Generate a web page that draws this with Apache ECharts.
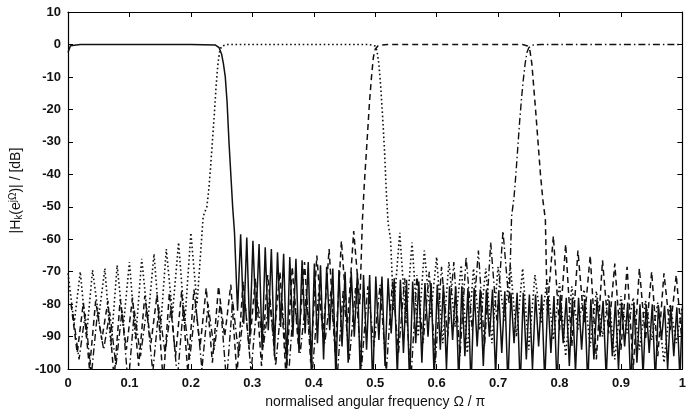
<!DOCTYPE html>
<html>
<head>
<meta charset="utf-8">
<script src="https://cdn.jsdelivr.net/npm/echarts@6/dist/echarts.min.js"></script>
<style>
  html, body { margin: 0; padding: 0; background: #fff; }
  #chart { width: 689px; height: 414px; }
</style>
</head>
<body>
<div id="chart"></div>
<script>
// frequency axis ticks (normalised, Omega / pi)
const xTicks = [0, 0.1, 0.2, 0.3, 0.4, 0.5, 0.6, 0.7, 0.8, 0.9, 1]
const yTicks = [10, 0, -10, -20, -30, -40, -50, -60, -70, -80, -90, -100]

// H0 - lowpass, solid
const h0Pass = [[0, -2.5], [0.004, -0.4], [0.02, 0], [0.1, 0], [0.2, 0], [0.24, -0.2], [0.246, -1], [0.25, -3],
  [0.253, -6], [0.256, -10], [0.259, -18], [0.262, -30], [0.265, -40], [0.268, -50], [0.271, -58]]
const h0StopStart = 0.276
const h0StopStep = 0.005
const h0Stop = [
  -82, -58.5, -86, -59.5, -90, -60.5, -85, -61.5, -94, -62.5,
  -88, -63, -96, -64, -87, -64.5, -99, -65.5, -90, -66,
  -95, -66.5, -89, -67, -101, -67.5, -92, -68, -97, -68.5,
  -88, -69, -103, -69.5, -93, -70, -98, -70, -90, -70.5,
  -104, -71, -94, -71, -106, -71.5, -91, -71.5, -99, -72,
  -89, -72, -102, -72.5, -95, -72.5, -105, -73, -92, -73,
  -98, -73.5, -90, -73.5, -103, -74, -94, -74, -100, -74.5,
  -91, -74.5, -104, -74.5, -96, -75, -106, -75, -93, -75.5,
  -99, -75.5, -90, -75.5, -102, -76, -95, -76, -105, -76.5,
  -92, -76.5, -106, -76.5, -97, -77, -100, -77, -93, -77,
  -104, -77.5, -95, -77.5, -106, -77.5, -92, -78, -99, -78,
  -101, -78, -94, -78.5, -105, -78.5, -97, -78.5, -90, -79,
  -103, -79, -96, -79, -100, -79.5, -93, -79.5, -106, -79.5,
  -98, -80, -102, -80, -95, -80, -104, -80.5, -91, -80.5,
  -100, -80.5, -96, -81, -103]

// H1 - bandpass 0.25..0.5, dotted
const h1LeftStart = 0
const h1Left = [-70.5, -86, -70, -90, -69.5, -84, -69, -93, -68, -87, -67, -91, -66, -85, -64.5, -89, -63, -83,
  -61, -86, -58, -80, -53]
const h1Pass = [[0.226, -50], [0.229, -45], [0.232, -38], [0.235, -30], [0.238, -22], [0.241, -13], [0.244, -6],
  [0.247, -2], [0.25, -0.5], [0.26, 0], [0.4, 0], [0.49, 0], [0.5, -0.5], [0.503, -2], [0.506, -6], [0.509, -13],
  [0.512, -22], [0.515, -32], [0.518, -45], [0.521, -55], [0.525, -60]]
const h1RightStart = 0.53
const h1Right = [-82, -58, -86, -61, -90, -63.5, -84, -65.5, -92, -67, -87, -68, -95, -69, -88, -69, -92, -68.5,
  -85, -68, -90, -69, -94, -71, -86, -72.5, -91, -73.5, -96, -74.5, -88, -75.5, -93, -76, -90, -77, -97, -77.5,
  -89, -78, -94, -79, -91, -79.5, -98, -80, -92, -80.5]

// H2 - bandpass 0.5..0.75, dashed
const h2LeftStart = 0.005
const h2Left = [-80, -95, -79.5, -100, -79, -91, -79, -103, -78.5, -94, -78, -99, -77.5, -92, -77, -104, -76.5, -96,
  -76, -101, -75.5, -93, -75, -98, -74.5, -90, -74, -102, -73, -94, -72, -99, -71, -91, -70, -103, -68.5, -93,
  -67, -98, -65, -90, -63, -95, -60.5, -86, -57.5, -80]
const h2Pass = [[0.479, -55], [0.482, -44], [0.485, -35], [0.488, -26], [0.491, -17], [0.494, -10], [0.497, -4],
  [0.5, -1.5], [0.505, -0.3], [0.52, 0], [0.74, 0], [0.748, -0.5], [0.752, -2], [0.755, -6], [0.758, -13],
  [0.761, -20], [0.765, -30], [0.769, -40], [0.773, -48], [0.777, -54]]
const h2RightStart = 0.78
const h2Right = [-82, -59, -88, -61.5, -93, -63.5, -86, -65, -97, -66.5, -89, -67.5, -94, -68.5, -100, -69, -91, -70,
  -96, -70.5, -88, -71, -93]

// H3 - highpass 0.75..1, dash-dot
const h3LeftStart = 0.008
const h3Left = [-83, -97, -83, -102, -82.5, -94, -82.5, -99, -82, -105, -82, -96, -81.5, -101, -81, -95, -81, -103,
  -80.5, -97, -80, -100, -80, -94, -79.5, -104, -79, -96, -79, -101, -78.5, -93, -78, -99, -78, -105, -77.5, -95,
  -77, -100, -76.5, -92, -76, -103, -75.5, -97, -75, -99, -74.5, -93, -74, -101, -73, -95, -72, -104, -71, -92,
  -70, -98, -68.5, -90, -67, -96, -65.5, -88, -63.5, -93, -61, -85, -57.5, -80]
const h3Pass = [[0.722, -53], [0.726, -47], [0.729, -40], [0.732, -32], [0.735, -24], [0.738, -17], [0.741, -11],
  [0.744, -6], [0.747, -2.5], [0.75, -1], [0.755, -0.2], [0.77, 0], [1, 0]]

const STEP = 0.01

// 把阻带的 dB 列表变成 [f, dB] 点
function ripple (start, list, step) {
  const s = step || STEP
  return list.map((v, i) => [+(start + i * s).toFixed(4), v])
}

const lineColor = '#111'
const fontFamily = 'Liberation Sans, Arial, sans-serif'

function lineSeries (data, type, width) {
  return {
    type: 'line',
    data: data,
    symbol: 'none',
    animation: false,
    clip: true,
    lineStyle: { color: lineColor, width: width, type: type }
  }
}

const series = [
  lineSeries(ripple(h3LeftStart, h3Left).concat(h3Pass), [7, 3, 1.5, 3], 1.4),
  lineSeries(ripple(h2LeftStart, h2Left).concat(h2Pass, ripple(h2RightStart, h2Right)), [6, 4], 1.5),
  lineSeries(ripple(h1LeftStart, h1Left).concat(h1Pass, ripple(h1RightStart, h1Right)), [1.6, 2.6], 1.6),
  lineSeries(h0Pass.concat(ripple(h0StopStart, h0Stop, h0StopStep), [[1, -81]]), 'solid', 1.5)
]

const axisCommon = {
  axisLine: { show: true, onZero: false, lineStyle: { color: '#000', width: 1.2 } },
  axisTick: { show: true, inside: true, length: 5, lineStyle: { color: '#000' } },
  splitLine: { show: false }
}

const tickFont = { color: '#111', fontFamily: fontFamily, fontSize: 13, fontWeight: 'bold' }

const option = {
  backgroundColor: '#fff',
  animation: false,
  grid: { left: 66, right: 3, top: 12, bottom: 41, containLabel: false },
  xAxis: [
    Object.assign({
      type: 'value', min: 0, max: 1, interval: 0.1, position: 'bottom',
      name: 'normalised angular frequency \u03a9 / \u03c0',
      nameLocation: 'middle', nameGap: 23,
      nameTextStyle: { fontFamily: fontFamily, fontSize: 14, color: '#111' },
      axisLabel: Object.assign({
        margin: 8,
        formatter: v => xTicks.includes(+v.toFixed(1)) ? String(+v.toFixed(1)) : ''
      }, tickFont)
    }, axisCommon),
    Object.assign({
      type: 'value', min: 0, max: 1, interval: 0.1, position: 'top', axisLabel: { show: false }
    }, axisCommon)
  ],
  yAxis: [
    Object.assign({
      type: 'value', min: -100, max: 10, interval: 10, position: 'left',
      name: '|H{k|k}(e{s|j\u03a9})| / [dB]',
      nameLocation: 'middle', nameGap: 44,
      nameTextStyle: {
        fontFamily: fontFamily, fontSize: 14, color: '#111',
        rich: {
          k: { fontSize: 10, fontFamily: fontFamily, color: '#111', verticalAlign: 'bottom', padding: [6, 0, 0, 0] },
          s: { fontSize: 10, fontFamily: fontFamily, color: '#111', verticalAlign: 'top', padding: [0, 0, 6, 0] }
        }
      },
      axisLabel: Object.assign({
        margin: 7,
        formatter: v => yTicks.includes(v) ? String(v) : ''
      }, tickFont)
    }, axisCommon),
    Object.assign({
      type: 'value', min: -100, max: 10, interval: 10, position: 'right', axisLabel: { show: false }
    }, axisCommon)
  ],
  series: series
}

const chart = echarts.init(document.getElementById('chart'), null, { renderer: 'canvas' })
chart.setOption(option)
</script>
</body>
</html>
